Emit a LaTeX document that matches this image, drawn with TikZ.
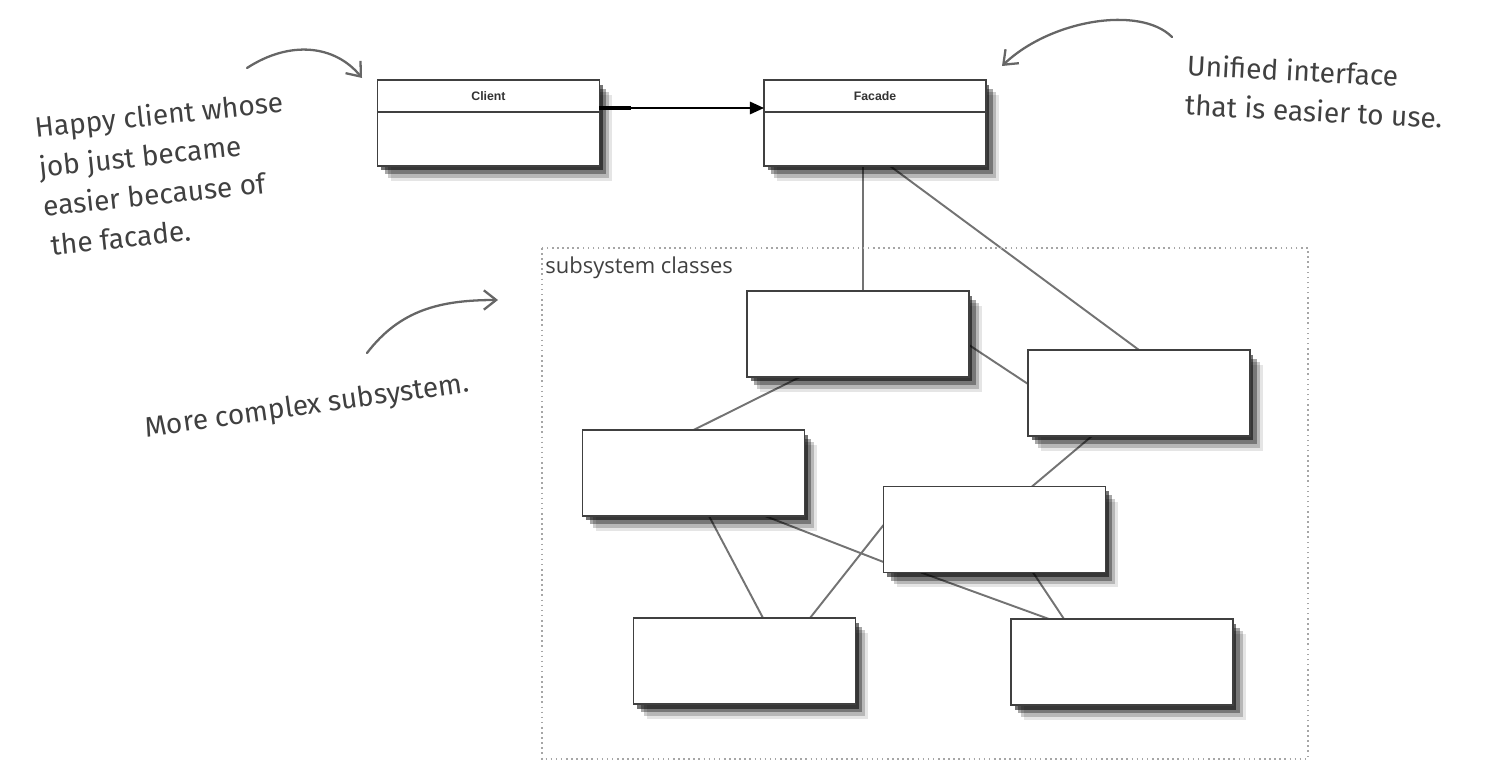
\documentclass[tikz,border=0pt]{standalone}
\usepackage{fontspec}
\setmainfont{Open Sans}
\newfontfamily\umlfont{Liberation Sans}
\newfontfamily\notefont{Fira Sans}
\usetikzlibrary{arrows.meta,shadows,calc,backgrounds}

\begin{document}
\begin{tikzpicture}[x=0.02cm, y=-0.02cm]
\tikzset{classbox/.style={draw=black!75, line width=0.9pt, fill=white, minimum width=4.44cm, minimum height=1.72cm, inner sep=0pt, outer sep=0pt,
    drop shadow={shadow xshift=0.26cm, shadow yshift=-0.3cm, fill=black, opacity=0.1},
    drop shadow={shadow xshift=0.2cm, shadow yshift=-0.24cm, fill=black, opacity=0.2},
    drop shadow={shadow xshift=0.14cm, shadow yshift=-0.17cm, fill=black, opacity=0.35},
    drop shadow={shadow xshift=0.07cm, shadow yshift=-0.09cm, fill=black, opacity=0.55}},
  umlbox/.style={classbox, path picture={\draw[black!75, line width=0.9pt] ([yshift=-0.64cm]path picture bounding box.north west) -- ([yshift=-0.64cm]path picture bounding box.north east);}},
  umlname/.style={anchor=center, yshift=-0.32cm, font=\umlfont\bfseries\fontsize{7}{8}\selectfont, text=black!80},
  link/.style={draw=black!55, line width=1.1pt},
  notearrow/.style={draw=black!60, line width=1.3pt, line cap=round, -{Straight Barb[length=7pt, width=11pt]}},
  note/.style={font=\notefont\fontsize{16}{22.5}\selectfont, text=black!75, align=left}}
\useasboundingbox (0,0) rectangle (1504,774);
\draw[black!35, dotted, line width=0.9pt] (542,248) rectangle (1308,759);
\node[anchor=north west, inner sep=0pt, font=\fontsize{12.5}{14}\selectfont, text=black!75] (subsys) at (545,256) {subsystem classes};
\node[umlbox, label={[umlname]north:Client}] (client) at (488.5,123) {};
\node[umlbox, label={[umlname]north:Facade}] (facade) at (875,123) {};
\node[classbox] (sub1) at (858,334) {};
\node[classbox] (sub2) at (693.5,473) {};
\node[classbox] (sub3) at (1139,393) {};
\node[classbox] (sub4) at (994.5,529.5) {};
\node[classbox] (sub5) at (744.5,661) {};
\node[classbox] (sub6) at (1122,662) {};
\begin{scope}[on background layer]
\draw[link] ($(facade.south)+(-12,0)$) -- ($(sub1.north)+(5,0)$);
\draw[link] ($(facade.south)+(15,0)$) -- (sub3.north);
\draw[link] ($(sub1.east)+(0,11)$) -- ($(sub3.west)+(0,-9)$);
\draw[link] ($(sub1.south)+(-58,0)$) -- (sub2.north);
\draw[link] ($(sub3.south)+(-47,0)$) -- ($(sub4.north)+(37.5,0)$);
\draw[link] ($(sub2.south)+(15.5,0)$) -- ($(sub5.north)+(18.5,0)$);
\draw[link] ($(sub2.south)+(71.5,0)$) -- ($(sub4.west)+(0,32.5)$);
\draw[link] ($(sub4.west)+(0,-4.5)$) -- ($(sub5.north)+(65.5,0)$);
\draw[link] ($(sub4.south)+(-73.5,0)$) -- ($(sub6.north)+(-73,0)$);
\draw[link] ($(sub4.south)+(38.5,0)$) -- ($(sub6.north)+(-58,0)$);
\end{scope}
\draw[line width=2.4pt] ($(client.east)+(0,-15)$) -- ++(32,0);
\draw[line width=1.2pt, -{Triangle[length=8pt, width=7pt]}] ($(client.east)+(0,-15)$) -- ($(facade.west)+(0,-15)$);
\node[note, rotate=6] (happy) at (165,173) {Happy client whose\\job just became\\easier because of\\\hspace{2pt}the facade.};
\node[note, rotate=-3, anchor=west] (unified) at (1180,84) {Unified interface\\that is easier to use.};
\node[note, rotate=8] (complex) at (307,407) {More complex subsystem.};
\coordinate (happytail) at (247,68);
\coordinate (happytip) at (362,78);
\coordinate (unifiedtail) at (1172,37);
\coordinate (unifiedtip) at (1002,66);
\coordinate (complextail) at (367,353);
\coordinate (complextip) at (498,300);
\draw[notearrow] (happytail) .. controls (290,40) and (335,45) .. (happytip);
\draw[notearrow] (unifiedtail) .. controls (1140,5) and (1050,20) .. (unifiedtip);
\draw[notearrow] (complextail) .. controls (400,310) and (440,300) .. (complextip);
\end{tikzpicture}
\end{document}
